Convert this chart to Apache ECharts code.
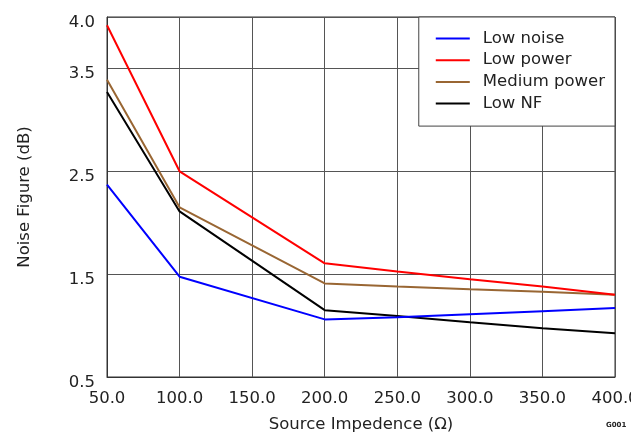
<!DOCTYPE html>
<html>
<head>
<meta charset="utf-8">
<script src="https://cdn.jsdelivr.net/npm/echarts@6/dist/echarts.min.js"></script>
<style>
html,body{margin:0;padding:0;background:#fff;}
#chart{width:631px;height:434px;}
</style>
</head>
<body>
<div id="chart"></div>
<script>
// Data
var sourceImpedance = [50, 100, 200, 250, 300, 350, 400];
var lowNoise    = [2.37, 1.475, 1.06, 1.08, 1.11, 1.14, 1.17];
var lowPower    = [3.92, 2.50, 1.605, 1.525, 1.45, 1.38, 1.30];
var mediumPower = [3.39, 2.15, 1.41, 1.38, 1.353, 1.33, 1.30];
var lowNF       = [3.27, 2.11, 1.15, 1.093, 1.032, 0.973, 0.925];
var seriesNames = ['Low noise', 'Low power', 'Medium power', 'Low NF'];
var seriesColors = ['#0000ff', '#ff0000', '#996633', '#000000'];
var xTitle = 'Source Impedence (\u03A9)';
var yTitle = 'Noise Figure (dB)';

function pairs(ys){ return sourceImpedance.map(function(x,i){ return [x, ys[i]]; }); }
var allValues = [lowNoise, lowPower, mediumPower, lowNF];

var FONT = 'DejaVu Sans';
var chart = echarts.init(document.getElementById('chart'), null, {renderer:'canvas'});
chart.setOption({
  animation: false,
  backgroundColor: '#ffffff',
  textStyle: {fontFamily: FONT, color: '#222'},
  grid: {left: 107, top: 17, right: 16, bottom: 57, show: true, borderColor: '#333', borderWidth: 1,
         containLabel: false, outerBoundsMode: 'none'},
  xAxis: {
    type: 'value', min: 50, max: 400, interval: 50,
    name: xTitle, nameLocation: 'middle', nameGap: 39,
    nameTextStyle: {fontFamily: FONT, fontSize: 16.5, color: '#222'},
    axisLine: {show: true, lineStyle: {color: '#333', width: 1}},
    axisTick: {show: false},
    axisLabel: {fontFamily: FONT, fontSize: 16.5, color: '#222', margin: 13,
      formatter: function(v){ return v.toFixed(1); }},
    splitLine: {show: true, lineStyle: {color: '#555', width: 1}}
  },
  yAxis: {
    type: 'value', min: 0.5, max: 4.0, interval: 1,
    name: yTitle, nameLocation: 'middle', nameGap: 74, nameRotate: 90,
    nameTextStyle: {fontFamily: FONT, fontSize: 16.5, color: '#222'},
    axisLine: {show: true, lineStyle: {color: '#333', width: 1}},
    axisTick: {show: false},
    axisLabel: {fontFamily: FONT, fontSize: 16.5, color: '#222', margin: 12,
      verticalAlign: 'top', lineHeight: 11,
      formatter: function(v){ return v.toFixed(1); }},
    splitLine: {show: true, lineStyle: {color: '#555', width: 1}}
  },
  legend: {
    orient: 'vertical', right: 16, top: 17,
    backgroundColor: '#fff', borderColor: '#444', borderWidth: 1,
    padding: [13, 10, 14, 16],
    itemWidth: 34, itemHeight: 14, itemGap: 4.7,
    itemStyle: {opacity: 0},
    lineStyle: {width: 2},
    textStyle: {fontFamily: FONT, fontSize: 16.5, color: '#222', padding: [0,0,0,8]},
    data: seriesNames
  },
  series: seriesNames.map(function(n, i){
    return {
      name: n, type: 'line', data: pairs(allValues[i]),
      symbol: 'none', showSymbol: false,
      lineStyle: {color: seriesColors[i], width: 2},
      itemStyle: {color: seriesColors[i]},
      z: 3 + (3 - i)
    };
  }),
  graphic: [{type: 'text', left: 606, top: 422, style: {text: 'G001', fontSize: 7, fontWeight: 'bold', fill: '#222', fontFamily: FONT}}]
});
</script>
</body>
</html>
